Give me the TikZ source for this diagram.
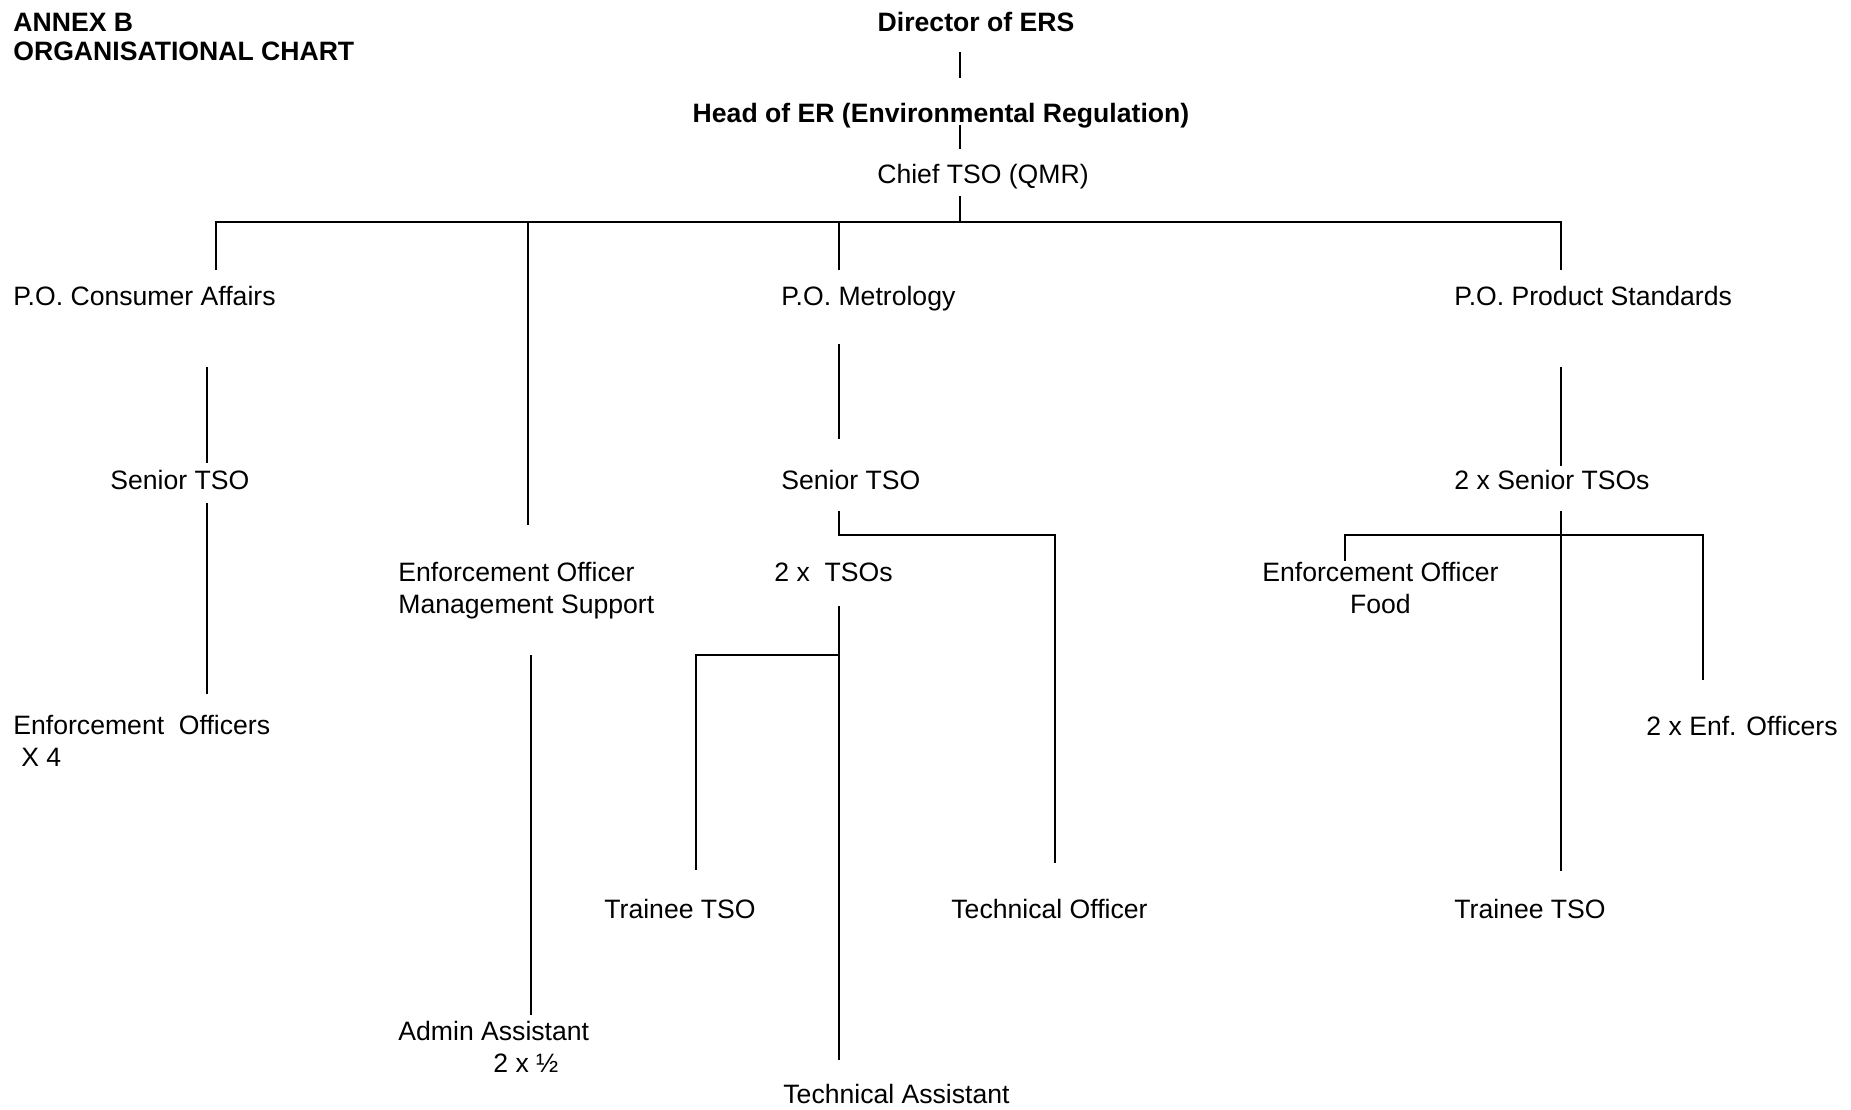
\documentclass[tikz,border=0pt]{standalone}
\usepackage{fontspec}
\setmainfont{Liberation Sans}

\begin{document}
\begin{tikzpicture}[x=0.5pt, y=-0.5pt,
                   every node/.style={inner sep=0pt, font=\fontsize{13.3}{16}\selectfont},
                   post/.style={anchor=base west, align=left},
                   boss/.style={anchor=base, font=\fontsize{13.3}{16}\selectfont\bfseries},
                   link/.style={draw=black, line width=0.9pt}]
\useasboundingbox (0,0) rectangle (1851,1109);

% titles (multi-line nodes sit on their last baseline)
\node[post, font=\fontsize{13.3}{14.5}\selectfont\bfseries] (annex) at (13,60) {ANNEX B\\ORGANISATIONAL CHART};
\node[boss] (dir) at (976,31) {Director of ERS};
\node[boss] (her) at (941,122) {Head of ER (Environmental Regulation)};
\node[anchor=base] (chief) at (983,183) {Chief TSO (QMR)};

% principal officers
\node[post] (poca) at (13,305) {P.O. Consumer Affairs};
\node[post] (pomet) at (781,305) {P.O. Metrology};
\node[post] (pops) at (1454,305) {P.O. Product Standards};

% second row
\node[post] (stsoA) at (110,489) {Senior TSO};
\node[post] (stsoB) at (781,489) {Senior TSO};
\node[post] (stsoC) at (1454,489) {2 x Senior TSOs};
\node[post] (mgmt) at (398,613) {Enforcement Officer\\Management Support};
\node[post] (tso) at (774,581) {2 x\ \ TSOs};
\node[anchor=base west, align=center] (eof) at (1262,613) {Enforcement Officer\\Food};

% lower posts
\node[post] (eo) at (13,766) {Enforcement\ \ Officers\\\hspace{0.3em}X 4};
\node[post] (enf) at (1646,735) {2 x Enf. Officers};
\node[post] (traineeA) at (604,918) {Trainee TSO};
\node[post] (techo) at (951,918) {Technical Officer};
\node[post] (traineeB) at (1454,918) {Trainee TSO};
\node[post] (adm) at (398,1072) {Admin Assistant\\\hspace{3.57em}2 x ½};
\node[post] (tass) at (783,1103) {Technical Assistant};

% line ends
\path (960,52) coordinate (dirB) (960,78) coordinate (herT)
      (960,125) coordinate (herB) (960,149) coordinate (chfT)
      (960,196) coordinate (chfB) (960,222) coordinate (bus)
      (216,222) coordinate (busA) (528,222) coordinate (busB)
      (839,222) coordinate (busC) (1561,222) coordinate (busD)
      (216,270) coordinate (pocaT) (528,525) coordinate (mgmtT)
      (839,270) coordinate (pometT) (1561,270) coordinate (popsT)
      (207,367) coordinate (pocaB) (207,463) coordinate (stsoAT)
      (207,503) coordinate (stsoAB) (207,694) coordinate (eoT)
      (531,655) coordinate (mgmtB) (531,1015) coordinate (admT)
      (839,344) coordinate (pometB) (839,439) coordinate (stsoBT)
      (839,511) coordinate (stsoBB) (1055,535) coordinate (techJ)
      (1055,863) coordinate (techoT)
      (839,606) coordinate (tsoB) (839,1060) coordinate (tassT)
      (839,655) coordinate (tsoJ) (696,870) coordinate (traineeAT)
      (1561,367) coordinate (popsB) (1561,466) coordinate (stsoCT)
      (1561,511) coordinate (stsoCB) (1561,871) coordinate (traineeBT)
      (1345,561) coordinate (eofT) (1703,535) coordinate (enfJ)
      (1703,680) coordinate (enfT);

% connectors
\draw[link] (dirB) -- (herT);
\draw[link] (herB) -- (chfT);
\draw[link] (chfB) -- (bus);
\draw[link] (pocaT) -- (busA) -- (busD) -- (popsT);
\draw[link] (busB) -- (mgmtT);
\draw[link] (busC) -- (pometT);
\draw[link] (pocaB) -- (stsoAT);
\draw[link] (stsoAB) -- (eoT);
\draw[link] (mgmtB) -- (admT);
\draw[link] (pometB) -- (stsoBT);
\draw[link] (stsoBB) |- (techJ) -- (techoT);
\draw[link] (tsoB) -- (tassT);
\draw[link] (tsoJ) -| (traineeAT);
\draw[link] (popsB) -- (stsoCT);
\draw[link] (stsoCB) -- (traineeBT);
\draw[link] (eofT) |- (enfJ) -- (enfT);
\end{tikzpicture}
\end{document}
